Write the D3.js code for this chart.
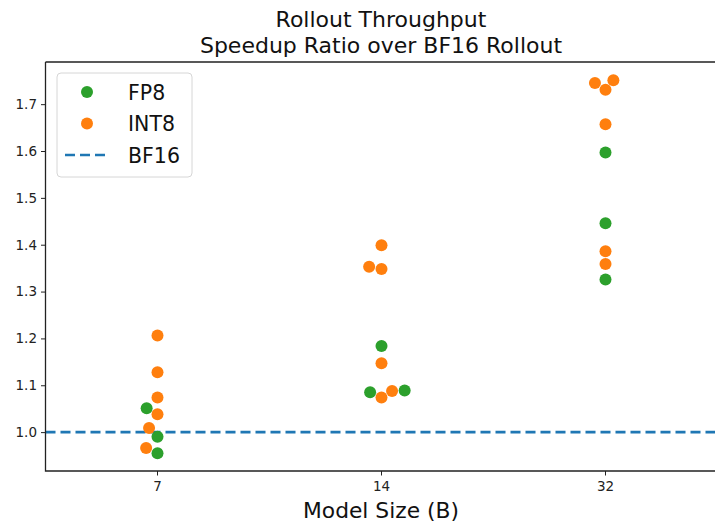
<!DOCTYPE html>
<html>
<head>
<meta charset="utf-8">
<script src="https://cdn.jsdelivr.net/npm/d3@7"></script>
<style>
  html, body { margin: 0; padding: 0; background: #fff; }
  svg { display: block; font-family: "DejaVu Sans", sans-serif; }
</style>
</head>
<body>
<svg id="chart" width="715" height="523"></svg>
<script>
// Model sizes (billions of parameters)
const categories = ["7", "14", "32"];
// Rollout throughput speedup over BF16, one list per model size
const fp8Values = [
  [1.051, 0.990, 0.955],
  [1.184, 1.085, 1.089],
  [1.597, 1.446, 1.326]
];
const int8Values = [
  [1.206, 1.128, 1.074, 1.038, 1.009, 0.966],
  [1.399, 1.353, 1.348, 1.147, 1.088, 1.074],
  [1.751, 1.745, 1.731, 1.657, 1.386, 1.359]
];
const baseline = 1.0;
const yTicks = [1.0, 1.1, 1.2, 1.3, 1.4, 1.5, 1.6, 1.7];
const seriesNames = ["FP8", "INT8", "BF16"];
const colors = { FP8: "#2ca02c", INT8: "#ff7f0e", BF16: "#1f77b4" };

const svg = d3.select("#chart");
const plot = { left: 45.5, right: 717.5, top: 62, bottom: 471 };

const x = d3.scaleBand().domain(categories).range([plot.left, plot.right]).padding(0);
const y = d3.scaleLinear().domain([0.917, 1.79]).range([plot.bottom, plot.top]);

// Baseline (BF16) dashed reference line
svg.append("line")
  .attr("x1", plot.left).attr("x2", 715)
  .attr("y1", y(baseline)).attr("y2", y(baseline))
  .attr("stroke", colors.BF16).attr("stroke-width", 2.6)
  .attr("stroke-dasharray", "10,5");

// Beeswarm placement: points sorted by value, each put at the
// closest-to-centre horizontal position that does not overlap.
const R = 6;
function swarm(points, cx) {
  const d = 2 * R;
  const sorted = points.map((p, i) => ({ ...p, i })).sort((a, b) => a.v - b.v || a.i - b.i);
  const placed = [];
  for (const p of sorted) {
    const py = y(p.v);
    const nb = placed.filter(q => Math.abs(q.py - py) < d);
    const cands = [cx];
    for (const q of nb) {
      const dy = py - q.py;
      const dx = Math.sqrt(Math.max(d * d - dy * dy, 0)) * 1.05;
      cands.push(q.px - dx, q.px + dx);
    }
    const order = cands.map((cxv, k) => ({ x: cxv, k }))
      .sort((a, b) => {
        const da = Math.abs(a.x - cx), db = Math.abs(b.x - cx);
        return Math.abs(da - db) < 1e-6 ? a.k - b.k : da - db;
      });
    for (const c of order) {
      if (nb.every(q => Math.hypot(q.px - c.x, q.py - py) >= d - 1e-6)) {
        placed.push({ ...p, px: c.x, py });
        break;
      }
    }
  }
  return placed;
}

const dots = [];
categories.forEach((cat, ci) => {
  const pts = [];
  fp8Values[ci].forEach(v => pts.push({ v, s: "FP8" }));
  int8Values[ci].forEach(v => pts.push({ v, s: "INT8" }));
  const cx = x(cat) + x.bandwidth() / 2;
  swarm(pts, cx).forEach(p => dots.push(p));
});

svg.append("g").selectAll("circle").data(dots).join("circle")
  .attr("cx", d => d.px).attr("cy", d => d.py).attr("r", R)
  .attr("fill", d => colors[d.s]);

// Axes
const yAxis = d3.axisLeft(y).tickValues(yTicks).tickFormat(d3.format(".1f"))
  .tickSize(4.5).tickPadding(4);
const xAxis = d3.axisBottom(x).tickSize(4.5).tickPadding(6);

const gy = svg.append("g").attr("transform", `translate(${plot.left},0)`).call(yAxis);
const gx = svg.append("g").attr("transform", `translate(0,${plot.bottom})`).call(xAxis);
[gx, gy].forEach(g => {
  g.select(".domain").remove();
  g.selectAll(".tick line").attr("stroke", "#222").attr("stroke-width", 1);
  g.selectAll(".tick text").attr("fill", "#222").style("font-size", "13.5px")
    .style("font-family", "'DejaVu Sans', sans-serif");
});

// Frame
svg.append("path")
  .attr("d", `M${plot.left},${plot.top}H715M${plot.left},${plot.top}V${plot.bottom}H715`)
  .attr("fill", "none").attr("stroke", "#222").attr("stroke-width", 1.3);

// Titles
const title = svg.append("text").attr("text-anchor", "middle")
  .attr("fill", "#111").style("font-size", "22px");
title.append("tspan").attr("x", 381).attr("y", 27).text("Rollout Throughput");
title.append("tspan").attr("x", 381).attr("y", 53).text("Speedup Ratio over BF16 Rollout");

svg.append("text").attr("x", 381).attr("y", 518).attr("text-anchor", "middle")
  .attr("fill", "#111").style("font-size", "21.8px").text("Model Size (B)");

// Legend
const lg = svg.append("g");
lg.append("rect").attr("x", 57).attr("y", 73).attr("width", 135).attr("height", 104)
  .attr("rx", 4).attr("fill", "#fff").attr("fill-opacity", 0.85)
  .attr("stroke", "#d6d6d6").attr("stroke-width", 1);
const rowY = [92, 123.5, 155];
seriesNames.forEach((name, i) => {
  const row = lg.append("g").attr("transform", `translate(0,${rowY[i]})`);
  if (name === "BF16") {
    row.append("line").attr("x1", 65).attr("x2", 108).attr("y1", 0).attr("y2", 0)
      .attr("stroke", colors.BF16).attr("stroke-width", 2.6).attr("stroke-dasharray", "10,5");
  } else {
    row.append("circle").attr("cx", 87).attr("cy", 0).attr("r", R).attr("fill", colors[name]);
  }
  row.append("text").attr("x", 128).attr("y", 7.5).attr("fill", "#111")
    .style("font-size", "20.5px").text(name);
});
</script>
</body>
</html>
